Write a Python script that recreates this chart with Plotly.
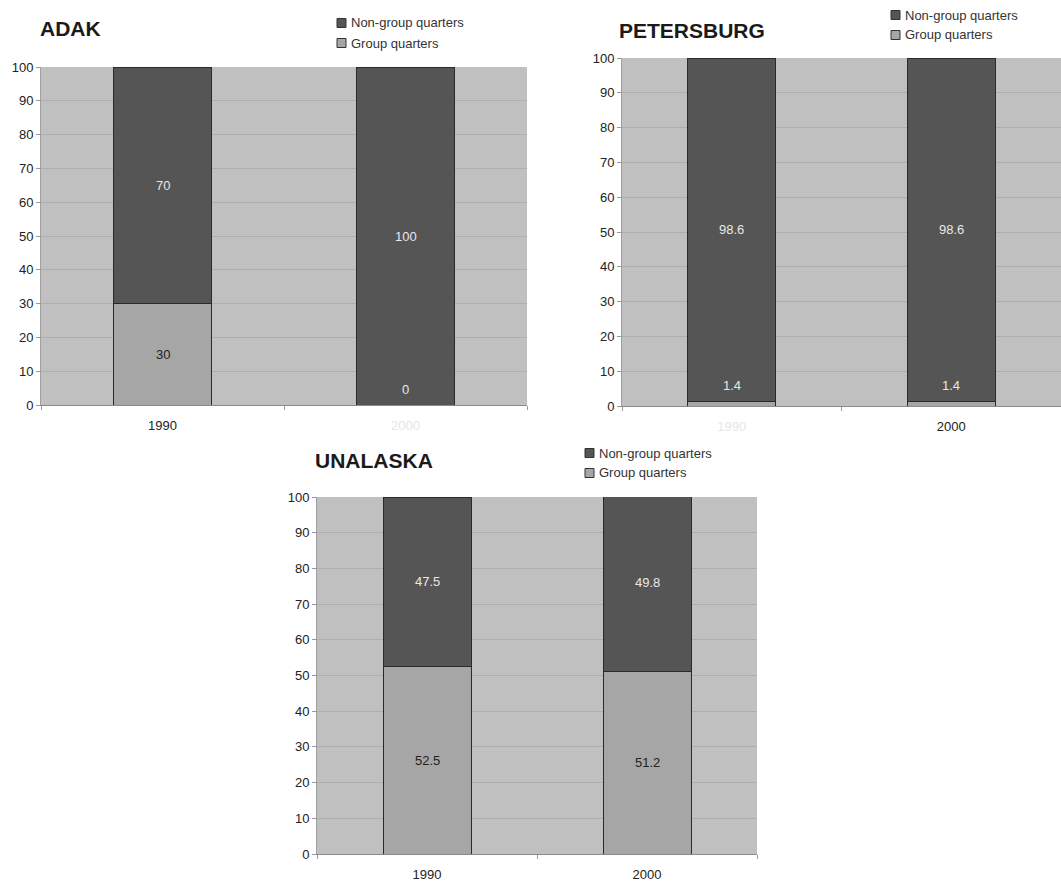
import plotly.graph_objects as go

years = ["1990", "2000"]
places = ["ADAK", "PETERSBURG", "UNALASKA"]
group_q = {"ADAK": [30, 0], "PETERSBURG": [1.4, 1.4], "UNALASKA": [52.5, 51.2]}
nongroup_q = {"ADAK": [70, 100], "PETERSBURG": [98.6, 98.6], "UNALASKA": [47.5, 49.8]}
y_ticks = list(range(0, 101, 10))
faint_year = {"ADAK": "2000", "PETERSBURG": "1990", "UNALASKA": None}

DARK = "#555555"
LIGHT = "#a6a6a6"
BG = "#c0c0c0"
FONT = "Liberation Sans, Arial, sans-serif"

W, H = 1061, 882
panels = {
    "ADAK": dict(xd=(41, 527), yd=(67, 405), title=(38, 28), leg=(337, 23)),
    "PETERSBURG": dict(xd=(622, 1061), yd=(58, 406), title=(617, 30), leg=(891, 15)),
    "UNALASKA": dict(xd=(317, 757), yd=(497, 854), title=(313, 461), leg=(585, 453)),
}

fig = go.Figure()
layout = dict(
    width=W, height=H, margin=dict(l=0, r=0, t=0, b=0, autoexpand=False),
    paper_bgcolor="white", plot_bgcolor=BG, barmode="stack",
    font=dict(family=FONT, size=13, color="#222222"),
    annotations=[], shapes=[], showlegend=False,
)

for i, p in enumerate(places):
    k = "" if i == 0 else str(i + 1)
    cfg = panels[p]
    series = [("Group quarters", group_q[p], LIGHT), ("Non-group quarters", nongroup_q[p], DARK)]
    for name, vals, col in series:
        fig.add_trace(go.Bar(
            x=years, y=vals, name=name,
            marker=dict(color=col, line=dict(color="#2a2a2a", width=1)),
            width=0.4, xaxis="x" + k, yaxis="y" + k, hoverinfo="skip"))

    x0, x1 = cfg["xd"]
    y0, y1 = cfg["yd"]
    ticktext = []
    for yr in years:
        if faint_year[p] == yr:
            ticktext.append(f"<span style='color:#e6e6e6'>{yr}</span>")
        else:
            ticktext.append(yr)
    layout["xaxis" + k] = dict(
        domain=[x0 / W, x1 / W], anchor="y" + k, type="category", range=[-0.5, 1.5],
        tickvals=years, ticktext=ticktext, ticks="outside", tickson="boundaries",
        ticklen=4, tickcolor="#999999", showline=True, linecolor="#8a8a8a", linewidth=1,
        showgrid=False, tickfont=dict(size=13, color="#222222"), fixedrange=True,
        automargin=False, ticklabelstandoff=8,
    )
    layout["yaxis" + k] = dict(
        domain=[1 - y1 / H, 1 - y0 / H], anchor="x" + k, range=[0, 100],
        tickvals=y_ticks, ticks="outside", ticklen=4, tickcolor="#999999",
        showgrid=True, gridcolor="#adadad", gridwidth=1, zeroline=False,
        showline=True, linecolor="#a0a0a0", linewidth=1,
        tickfont=dict(size=13, color="#222222"), fixedrange=True, automargin=False,
    )
    # title
    layout["annotations"].append(dict(
        text=f"<b>{p}</b>", x=cfg["title"][0] / W, y=1 - cfg["title"][1] / H,
        xref="paper", yref="paper", xanchor="left", yanchor="middle", showarrow=False,
        font=dict(size=21, color="#1a1a1a", family=FONT),
    ))
    # legend (top: Non-group, bottom: Group)
    lx, ly = cfg["leg"]
    for r, (name, vals, col) in enumerate(reversed(series)):
        cy = ly + r * 20
        layout["shapes"].append(dict(
            type="rect", xref="paper", yref="paper",
            x0=lx / W, x1=(lx + 9) / W, y0=1 - (cy + 4.5) / H, y1=1 - (cy - 4.5) / H,
            fillcolor=col, line=dict(color="#333333", width=1)))
        layout["annotations"].append(dict(
            text=name, x=(lx + 12) / W, y=1 - cy / H, xref="paper", yref="paper",
            xanchor="left", yanchor="middle", showarrow=False,
            font=dict(size=13, color="#333333")))
    # value labels
    for j, yr in enumerate(years):
        g = group_q[p][j]
        n = nongroup_q[p][j]
        if g >= 10:
            ya, col = g / 2, "#222222"
        else:
            ya, col = g + 4.5, "#e8e8e8"
        layout["annotations"].append(dict(
            text=f"{g:g}", x=j, y=ya, xref="x" + k, yref="y" + k, showarrow=False,
            font=dict(size=13, color=col)))
        layout["annotations"].append(dict(
            text=f"{n:g}", x=j, y=g + n / 2, xref="x" + k, yref="y" + k, showarrow=False,
            font=dict(size=13, color="#e8e8e8")))

fig.update_layout(**layout)
fig.write_html("out.html", config={"displayModeBar": False, "staticPlot": True})

# remove the browser's default page margin so the figure starts at (0, 0)
with open("out.html", "r", encoding="utf-8") as f:
    html = f.read()
html = html.replace("<body>", "<body style=\"margin:0;padding:0;overflow:hidden\">", 1)
with open("out.html", "w", encoding="utf-8") as f:
    f.write(html)
